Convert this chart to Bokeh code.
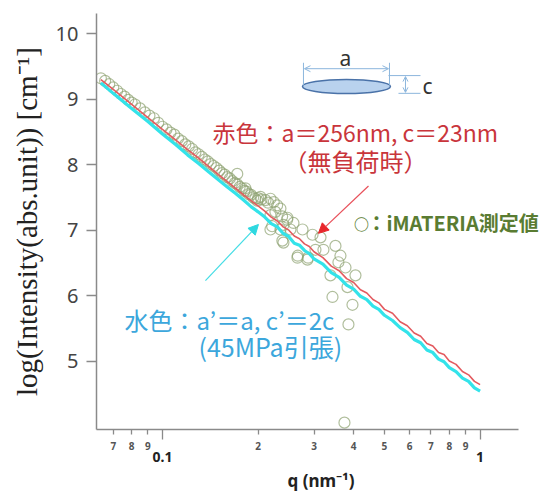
from bokeh.plotting import figure
from bokeh.models import (Range1d, FixedTicker, LogAxis, Label, Arrow, NormalHead,
                          OpenHead, CustomJSTickFormatter, ColumnDataSource)
from bokeh.embed import file_html
from bokeh.resources import INLINE

# ---------------- data ----------------
line_q = [0.064, 0.07, 0.08, 0.09, 0.1, 0.11, 0.12, 0.13, 0.14, 0.15, 0.16, 0.17, 0.18, 0.19,
          0.2, 0.21, 0.22, 0.23, 0.24, 0.25, 0.26, 0.27, 0.28, 0.29, 0.30, 0.32, 0.34, 0.36,
          0.38, 0.40, 0.42, 0.44, 0.46, 0.48, 0.50, 0.53, 0.56, 0.59, 0.62, 0.65, 0.68, 0.71,
          0.74, 0.77, 0.80, 0.84, 0.88, 0.92, 0.96, 1.0]
red_model = [9.30, 9.15, 8.92, 8.72, 8.54, 8.38, 8.23, 8.10, 7.97, 7.85, 7.74, 7.64, 7.54, 7.45,
             7.37, 7.29, 7.20, 7.14, 7.05, 7.00, 6.91, 6.87, 6.79, 6.75, 6.67, 6.58, 6.45, 6.38,
             6.26, 6.20, 6.09, 6.04, 5.94, 5.89, 5.79, 5.73, 5.60, 5.54, 5.43, 5.38, 5.27, 5.23,
             5.13, 5.10, 5.00, 4.95, 4.84, 4.79, 4.69, 4.64]
cyan_model = [9.25, 9.09, 8.86, 8.66, 8.47, 8.31, 8.15, 8.02, 7.89, 7.77, 7.66, 7.56, 7.46, 7.36,
              7.28, 7.20, 7.10, 7.05, 6.95, 6.90, 6.80, 6.77, 6.69, 6.64, 6.56, 6.48, 6.35, 6.28,
              6.16, 6.10, 5.99, 5.94, 5.84, 5.79, 5.70, 5.62, 5.51, 5.44, 5.33, 5.28, 5.17, 5.13,
              5.03, 4.99, 4.90, 4.84, 4.74, 4.69, 4.59, 4.54]

meas_q = [0.064, 0.066, 0.068, 0.070, 0.072, 0.074, 0.076, 0.078, 0.080, 0.082, 0.085, 0.088,
          0.091, 0.094, 0.097, 0.100, 0.103, 0.106, 0.109, 0.112, 0.115, 0.118, 0.121, 0.124,
          0.127, 0.130, 0.133, 0.136, 0.139, 0.142, 0.145, 0.148, 0.151, 0.154, 0.157, 0.160,
          0.163, 0.166, 0.169, 0.172, 0.175, 0.178, 0.181, 0.184, 0.187, 0.190, 0.193, 0.196,
          0.199,
          0.172, 0.1825, 0.200, 0.2035, 0.205, 0.2111, 0.215, 0.2188, 0.2241, 0.2297, 0.2352,
          0.2268, 0.2188, 0.2381, 0.2470, 0.2215, 0.2352, 0.2529,
          0.2404, 0.2585, 0.2760, 0.2968, 0.3145, 0.2404, 0.2661, 0.2861, 0.3032, 0.3212,
          0.3505, 0.3634, 0.3581, 0.3380, 0.3769, 0.4052, 0.3824, 0.3430, 0.3965, 0.3851,
          0.3741, 0.2475, 0.2188, 0.2385, 0.2667, 0.2875]
meas_v = [9.32, 9.28, 9.23, 9.18, 9.13, 9.08, 9.04, 8.99, 8.95, 8.92, 8.86, 8.80,
          8.75, 8.71, 8.64, 8.58, 8.54, 8.49, 8.46, 8.40, 8.36, 8.31, 8.28, 8.24,
          8.19, 8.16, 8.12, 8.08, 8.05, 8.01, 7.98, 7.95, 7.91, 7.87, 7.85, 7.81,
          7.79, 7.75, 7.72, 7.70, 7.66, 7.64, 7.60, 7.59, 7.55, 7.54, 7.50, 7.48,
          7.45,
          7.86, 7.64, 7.49, 7.51, 7.47, 7.46, 7.42, 7.48, 7.43, 7.38, 7.33,
          7.28, 7.23, 7.21, 7.16, 7.06, 7.01, 7.01,
          7.08, 7.11, 7.01, 6.93, 6.89, 6.81, 6.58, 6.55, 6.70, 6.70,
          6.76, 6.61, 6.51, 6.31, 6.43, 6.31, 6.13, 5.98, 5.86, 5.56,
          4.06, 7.19, 7.01, 6.84, 6.61, 6.58]

x_small_ticks = [0.07, 0.08, 0.09, 0.2, 0.3, 0.4, 0.5, 0.6, 0.7, 0.8, 0.9]
x_big_ticks = [0.1, 1]
y_ticks = [5, 6, 7, 8, 9, 10]
x_axis_span = (0.0620, 1.324)
y_axis_span = (3.955, 10.31)


# picture-pixel -> data helpers for annotation placement
def qx(px):
    return 10 ** (-1 + (px - 162) / 317.6)


def vy(py):
    return 9 - (py - 100) / 66.4


p = figure(width=545, height=494, x_axis_type="log", x_axis_location=None,
           x_range=Range1d(x_axis_span[0], qx(545)), y_range=Range1d(*y_axis_span),
           output_backend="svg", toolbar_location=None,
           min_border_left=96, min_border_right=0, min_border_top=13, min_border_bottom=59)
p.outline_line_color = None
p.grid.visible = False
p.background_fill_color = "white"
p.border_fill_color = "white"

# y axis
ya = p.yaxis[0]
ya.ticker = FixedTicker(ticks=y_ticks, minor_ticks=[])
ya.major_tick_out = 10
ya.major_tick_in = 0
ya.axis_line_color = "#8a8a8a"
ya.axis_line_width = 1.5
ya.major_tick_line_color = "#8a8a8a"
ya.major_tick_line_width = 1.5
ya.major_label_text_font = "Noto Sans"
ya.major_label_text_font_size = "20px"
ya.major_label_text_color = "#444444"
ya.major_label_standoff = 8
ya.axis_label = "log(Intensity(abs.unit)) [cm\u207b\u00b9]"
ya.axis_label_text_font = "Liberation Serif"
ya.axis_label_text_font_size = "29px"
ya.axis_label_text_font_style = "normal"
ya.axis_label_text_color = "#222222"
ya.axis_label_standoff = 10

# x axis: small labelled ticks, long unlabelled ticks at 0.1 and 1
xa = LogAxis(ticker=FixedTicker(ticks=x_small_ticks, minor_ticks=x_big_ticks),
             formatter=CustomJSTickFormatter(
                 code="return String(Math.round(tick / Math.pow(10, Math.floor(Math.log10(tick) + 1e-9))))"))
xa.bounds = x_axis_span
xa.major_tick_out = 5
xa.major_tick_in = 0
xa.minor_tick_out = 10
xa.minor_tick_in = 0
xa.axis_line_color = "#8a8a8a"
xa.axis_line_width = 1.5
xa.major_tick_line_color = "#8a8a8a"
xa.minor_tick_line_color = "#8a8a8a"
xa.major_tick_line_width = 1.3
xa.minor_tick_line_width = 1.3
xa.major_label_text_font = "Noto Sans"
xa.major_label_text_font_size = "10px"
xa.major_label_text_font_style = "bold"
xa.major_label_text_color = "#555555"
xa.major_label_standoff = 2
p.add_layout(xa, "below")

xb = LogAxis(ticker=FixedTicker(ticks=x_big_ticks, minor_ticks=[]),
             formatter=CustomJSTickFormatter(code="return tick.toString()"))
xb.axis_line_color = None
xb.major_tick_line_color = None
xb.minor_tick_line_color = None
xb.major_tick_out = 0
xb.major_tick_in = 0
xb.major_label_text_font = "Noto Sans"
xb.major_label_text_font_size = "14px"
xb.major_label_text_font_style = "bold"
xb.major_label_text_color = "#222222"
xb.major_label_standoff = -1
xb.axis_label = "q (nm\u207b\u00b9)"
xb.axis_label_text_font = "Noto Sans"
xb.axis_label_text_font_size = "17px"
xb.axis_label_text_font_style = "bold"
xb.axis_label_text_color = "#222222"
xb.axis_label_standoff = 4
p.add_layout(xb, "below")

# data
meas = ColumnDataSource(dict(q=meas_q, v=meas_v))
p.scatter("q", "v", source=meas, marker="circle", size=11, fill_color=None,
          line_color="#8fa372", line_alpha=0.7, line_width=1.2)
p.line(line_q, cyan_model, line_color="#33e3ea", line_width=3.2)
p.line(line_q, red_model, line_color="#e35b60", line_width=1.6)

# ellipse diagram
p.ellipse(x=[qx(346)], y=[vy(87)], width=88, height=14, width_units="screen",
          height_units="screen", fill_color="#b9d2ee", line_color="#4a72a8", line_width=1.5)
dim_col = "#8cb6dd"
p.segment(x0=[qx(303), qx(389), qx(388), qx(398)], y0=[vy(63), vy(63), vy(76), vy(94)],
          x1=[qx(303), qx(389), qx(420), qx(420)], y1=[vy(86), vy(86), vy(76), vy(94)],
          line_color=dim_col, line_width=1)
p.add_layout(Arrow(x_start=qx(304), y_start=vy(69), x_end=qx(388), y_end=vy(69),
                   start=OpenHead(size=6, line_color=dim_col, line_width=1),
                   end=OpenHead(size=6, line_color=dim_col, line_width=1),
                   line_color=dim_col, line_width=1))
p.add_layout(Arrow(x_start=qx(405), y_start=vy(77), x_end=qx(405), y_end=vy(93),
                   start=OpenHead(size=5, line_color=dim_col, line_width=1),
                   end=OpenHead(size=5, line_color=dim_col, line_width=1),
                   line_color=dim_col, line_width=1))
p.add_layout(Label(x=qx(345), y=vy(58), text="a", text_align="center", text_baseline="middle",
                   text_font="Noto Sans", text_font_size="21px", text_color="#333333"))
p.add_layout(Label(x=qx(427), y=vy(87), text="c", text_align="center", text_baseline="middle",
                   text_font="Noto Sans", text_font_size="21px", text_color="#333333"))

# annotation texts
red_txt = "#c9353b"
cyan_txt = "#3ca7dc"
green_txt = "#5a7c32"
p.add_layout(Label(x=qx(212), y=vy(133), text="赤色：a＝256nm, c＝23nm", text_align="left",
                   text_baseline="middle", text_font="Noto Sans CJK JP",
                   text_font_size="23px", text_color=red_txt))
p.add_layout(Label(x=qx(283), y=vy(162), text="（無負荷時）", text_align="left",
                   text_baseline="middle", text_font="Noto Sans CJK JP",
                   text_font_size="24px", text_color=red_txt))
p.add_layout(Label(x=qx(124), y=vy(323), text="水色：a\u2019＝a, c\u2019＝2c", text_align="left",
                   text_baseline="middle", text_font="Noto Sans CJK JP",
                   text_font_size="24px", text_color=cyan_txt))
p.add_layout(Label(x=qx(198), y=vy(350), text="(45MPa引張)", text_align="left",
                   text_baseline="middle", text_font="Noto Sans CJK JP",
                   text_font_size="25px", text_color=cyan_txt))
p.add_layout(Label(x=qx(361), y=vy(226), text="○", text_align="center",
                   text_baseline="middle", text_font="Noto Sans CJK JP",
                   text_font_size="15px", text_font_style="bold", text_color=green_txt))
p.add_layout(Label(x=qx(366), y=vy(225), text="：iMATERIA測定値", text_align="left",
                   text_baseline="middle", text_font="Noto Sans CJK JP",
                   text_font_size="20px", text_font_style="bold", text_color=green_txt))

# arrows
p.add_layout(Arrow(x_start=qx(368), y_start=vy(188), x_end=qx(318), y_end=vy(236),
                   end=NormalHead(size=10, fill_color="#e8262b", line_color="#e8262b"),
                   line_color="#e8505a", line_width=1.2))
p.add_layout(Arrow(x_start=qx(205), y_start=vy(284), x_end=qx(258), y_end=vy(227),
                   end=NormalHead(size=10, fill_color="#2fd8e0", line_color="#2fd8e0"),
                   line_color="#45dde5", line_width=1.2))

open("out.html", "w").write(file_html(p, INLINE))
